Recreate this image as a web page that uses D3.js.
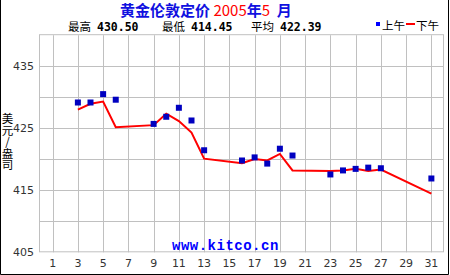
<!DOCTYPE html>
<html>
<head>
<meta charset="utf-8">
<script src="https://cdn.jsdelivr.net/npm/d3@7"></script>
<style>
  body { margin: 0; background: #fff; }
</style>
</head>
<body>
<div id="chart"></div>
<script>
// London gold fix, May 2005 (USD / oz)
const days = [3, 4, 5, 6, 9, 10, 11, 12, 13, 16, 17, 18, 19, 20, 23, 24, 25, 26, 27, 31];
const amFix = [429.15, 429.15, 430.50, 429.60, 425.70, 426.85, 428.30, 426.25, 421.45, 419.80,
               420.30, 419.30, 421.70, 420.60, 417.55, 418.20, 418.45, 418.65, 418.55, 416.90];
const pmFix = [428.00, 428.95, 429.30, 425.15, 425.50, 427.35, 426.15, 424.30, 420.10, 419.35,
               420.05, 419.80, 420.85, 418.20, 418.10, 418.20, 418.45, 418.10, 418.35, 414.45];
const xTicks = d3.range(1, 32, 2);
const yGrid = [410, 415, 420, 425, 430, 435];
const yLabels = [405, 415, 425, 435];
const stats = [['最高', '430.50'], ['最低', '414.45'], ['平均', '422.39']];

const W = 450, H = 275;
const cjk = '"Noto Sans CJK SC", sans-serif';
const mono = '"DejaVu Sans Mono", monospace';

const svg = d3.select('#chart').append('svg')
  .attr('width', W)
  .attr('height', H);

const x = d3.scaleLinear().domain([0, 32]).range([40, 444]);
const y = d3.scaleLinear().domain([405, 440]).range([252.3, 35.2]);

// outer frame (left, right, bottom)
svg.append('path')
  .attr('d', `M0.5,0 V${H - 0.5} H448.5 V0`)
  .attr('fill', 'none')
  .attr('stroke', '#000');

// title
const title = svg.append('text')
  .attr('x', 120)
  .attr('y', 16)
  .attr('font-family', cjk)
  .attr('font-size', 15)
  .attr('font-weight', 'bold')
  .attr('fill', '#1010e0');
title.append('tspan').text('黄金伦敦定价\u00a0');
title.append('tspan').attr('fill', '#ff0000').attr('font-weight', 'normal').text('2005');
title.append('tspan').text('年');
title.append('tspan').attr('fill', '#ff0000').attr('font-weight', 'normal').text('5');
title.append('tspan').text('\u00a0\u00a0月');

// stats line
const statX = [68, 162, 251];
stats.forEach((s, i) => {
  svg.append('text')
    .attr('x', statX[i])
    .attr('y', 31)
    .attr('font-family', cjk)
    .attr('font-size', 11.5)
    .text(s[0]);
  svg.append('text')
    .attr('x', statX[i] + 29)
    .attr('y', 31)
    .attr('font-family', mono)
    .attr('font-weight', 'bold')
    .attr('font-size', 11.5)
    .text(s[1]);
});

// legend
svg.append('rect').attr('x', 376).attr('y', 22).attr('width', 4).attr('height', 4).attr('fill', '#0000ff');
svg.append('text').attr('x', 382).attr('y', 30).attr('font-family', cjk).attr('font-size', 11.5).text('上午');
svg.append('rect').attr('x', 406).attr('y', 23).attr('width', 9).attr('height', 2).attr('fill', '#ff0000');
svg.append('text').attr('x', 416).attr('y', 30).attr('font-family', cjk).attr('font-size', 11.5).text('下午');

// grid
const grid = svg.append('g').attr('stroke', '#c0c0c0').attr('stroke-width', 1);
grid.append('rect')
  .attr('x', x(0) - 0.5).attr('y', y(440) - 0.5)
  .attr('width', x(32) - x(0)).attr('height', y(405) - y(440))
  .attr('fill', '#fff');
xTicks.forEach(d => {
  grid.append('line')
    .attr('x1', Math.round(x(d)) + 0.5).attr('x2', Math.round(x(d)) + 0.5)
    .attr('y1', y(440)).attr('y2', y(405));
});
yGrid.forEach(v => {
  grid.append('line')
    .attr('x1', x(0)).attr('x2', x(32))
    .attr('y1', Math.round(y(v)) + 0.5).attr('y2', Math.round(y(v)) + 0.5);
});

// axis labels
svg.append('g').selectAll('text')
  .data(yLabels).join('text')
  .attr('x', 34)
  .attr('y', d => y(d) + 4)
  .attr('text-anchor', 'end')
  .attr('font-family', '"DejaVu Sans", sans-serif')
  .attr('font-size', 11)
  .attr('fill', '#333')
  .text(d => d);

svg.append('g').selectAll('text')
  .data(xTicks).join('text')
  .attr('x', d => x(d))
  .attr('y', 267)
  .attr('text-anchor', 'middle')
  .attr('font-family', '"DejaVu Sans", sans-serif')
  .attr('font-size', 11)
  .attr('fill', '#333')
  .text(d => d);

// y unit label, written top to bottom
svg.append('text')
  .attr('x', 7.5)
  .attr('y', 113)
  .attr('font-family', cjk)
  .attr('font-size', 11.5)
  .style('writing-mode', 'vertical-rl')
  .style('text-orientation', 'upright')
  .text('美元/盎司');

// watermark
svg.append('text')
  .attr('x', 172)
  .attr('y', 250)
  .attr('font-family', '"Liberation Mono", monospace')
  .attr('font-weight', 'bold')
  .attr('font-size', 14)
  .attr('letter-spacing', 0.5)
  .attr('fill', '#0000ff')
  .text('www.kitco.cn');

// PM fix line
const line = d3.line()
  .x((d, i) => x(days[i]))
  .y(d => y(d));

svg.append('path')
  .datum(pmFix)
  .attr('d', line)
  .attr('fill', 'none')
  .attr('stroke', '#ff0000')
  .attr('stroke-width', 2);

// AM fix squares
svg.append('g').selectAll('rect')
  .data(amFix).join('rect')
  .attr('x', (d, i) => x(days[i]) - 3)
  .attr('y', d => y(d) - 3)
  .attr('width', 6)
  .attr('height', 6)
  .attr('fill', '#0000c0');
</script>
</body>
</html>
